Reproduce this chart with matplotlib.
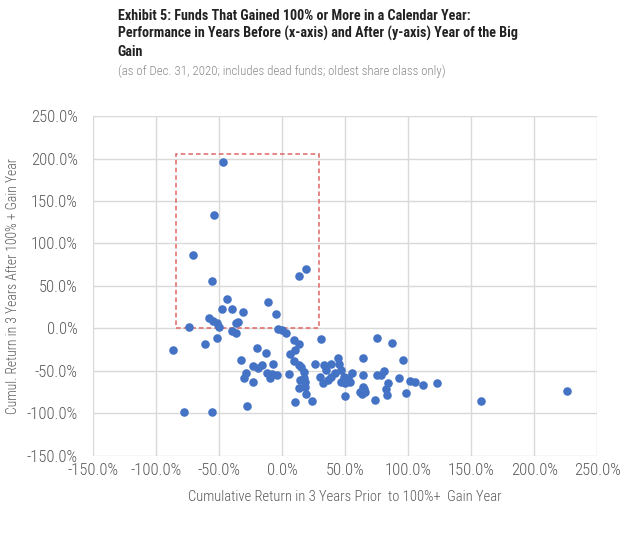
import matplotlib
matplotlib.use("Agg")
import matplotlib.pyplot as plt
from matplotlib import font_manager
from matplotlib.patches import Rectangle
from matplotlib.ticker import FuncFormatter

# cumulative return 3 yrs before the big gain year (x) and 3 yrs after incl. gain year (y), in %
before = [-47, -54, -71, -56, 13, 19, -44, -11, -48, -40, -31, -5, -58, -55, -52, -37, -35,
          -74, -50, -40, -37, -52, -3, 0, 3, 9, 13, 31,
          -87, -61, -20, -13, -33, 10, 6, 9, 13, 15, 17, 17, 18, -23, -19, -16, -7,
          -29, -30, -12, -10, -4, -8, -23, 5, 13, 19, 10, -28, -78, -56, 24,
          26, 33, 35, 39, 44, 45, 47, 49, 52, 47, 30, 32, 36, 42, 39, 50, 54, 55,
          64, 64, 64, 62, 50, 74, 14, 18, 75,
          75, 87, 96, 78, 81, 93, 101, 105, 112, 123, 84, 82, 83, 98, 65, 66, 63,
          158, 226]
after = [196, 134, 86, 56, 62, 70, 34, 31, 23, 23, 19, 17, 12, 9, 6, 6, 7,
         1, 1, -3, -5, -11, -1, -2, -6, -14, -18, -13,
         -25, -19, -23, -29, -37, -26, -30, -39, -43, -46, -52, -58, -63, -45, -47, -43, -42,
         -53, -58, -53, -59, -55, -54, -63, -54, -70, -77, -87, -91, -99, -99, -86,
         -42, -43, -49, -42, -35, -42, -49, -57, -59, -63, -57, -65, -61, -53, -57, -64, -63, -53,
         -35, -55, -69, -75, -80, -85, -61, -69, -55,
         -11, -17, -37, -55, -50, -59, -62, -63, -67, -64, -65, -72, -78, -76, -71, -75, -77,
         -86, -74]

# highlighted region (funds that kept gaining)
box_x = [-84, 29]
box_y = [0, 205]

x_ticks = [-150, -100, -50, 0, 50, 100, 150, 200, 250]
y_ticks = [-150, -100, -50, 0, 50, 100, 150, 200, 250]

title = ("Exhibit 5: Funds That Gained 100% or More in a Calendar Year:\n"
         "Performance in Years Before (x-axis) and After (y-axis) Year of the Big\n"
         "Gain")
subtitle = "(as of Dec. 31, 2020; includes dead funds; oldest share class only)"

# the original uses a condensed face; take one if it is around
names = {f.name for f in font_manager.fontManager.ttflist}
narrow = None
for cand in ["Roboto Condensed", "Liberation Sans Narrow", "Open Sans Condensed",
             "DejaVu Sans Condensed"]:
    if cand in names:
        narrow = cand
        break
has_dejavu_cond = any(f.name == "DejaVu Sans" and f.stretch == "condensed"
                      for f in font_manager.fontManager.ttflist)

if narrow:
    plt.rcParams['font.family'] = [narrow, 'DejaVu Sans']
    k = 1.0
elif has_dejavu_cond:
    plt.rcParams['font.family'] = ['DejaVu Sans']
    plt.rcParams['font.stretch'] = 'condensed'
    k = 0.9
else:
    plt.rcParams['font.family'] = ['DejaVu Sans']
    k = 0.78

fig = plt.figure(figsize=(6.3, 5.45), dpi=100)
ax = fig.add_axes([0.148, 0.164, 0.800, 0.623])

ax.scatter(before, after, s=38, color="#4472C4", zorder=3, linewidths=0)

ax.add_patch(Rectangle((box_x[0], box_y[0]), box_x[1] - box_x[0], box_y[1] - box_y[0],
                       fill=False, edgecolor="#E06666", linestyle=(0, (3, 2)),
                       linewidth=1.1, zorder=2))

ax.set_xlim(-150, 250)
ax.set_ylim(-150, 250)
ax.set_xticks(x_ticks)
ax.set_yticks(y_ticks)
pct = FuncFormatter(lambda v, p: f"{v:.1f}%")
ax.xaxis.set_major_formatter(pct)
ax.yaxis.set_major_formatter(pct)
ax.grid(True, color="#D9D9D9", linewidth=1.0, zorder=0)
ax.set_axisbelow(True)
for s in ax.spines.values():
    s.set_visible(False)
ax.tick_params(length=0, labelsize=12 * k, colors="#595959")
ax.tick_params(axis="y", pad=11)
ax.tick_params(axis="x", pad=5)
for lab in ax.get_xticklabels() + ax.get_yticklabels():
    lab.set_fontweight("light")

ax.set_xlabel("Cumulative Return in 3 Years Prior  to 100%+  Gain Year",
              fontsize=10.5 * k, color="#595959", labelpad=9, fontweight="light")
ax.set_ylabel("Cumul. Return in 3 Years After 100% + Gain Year",
              fontsize=9.8 * k, color="#595959", labelpad=5, fontweight="light")

fig.text(0.187, 0.938, title, fontsize=10.2 * k, fontweight="bold", color="#222222",
         va="center", ha="left", linespacing=1.32)
fig.text(0.187, 0.870, subtitle, fontsize=9.3 * k, color="#8a8a8a", va="center",
         ha="left", fontweight="light")

fig.savefig("out.png", dpi=100)
